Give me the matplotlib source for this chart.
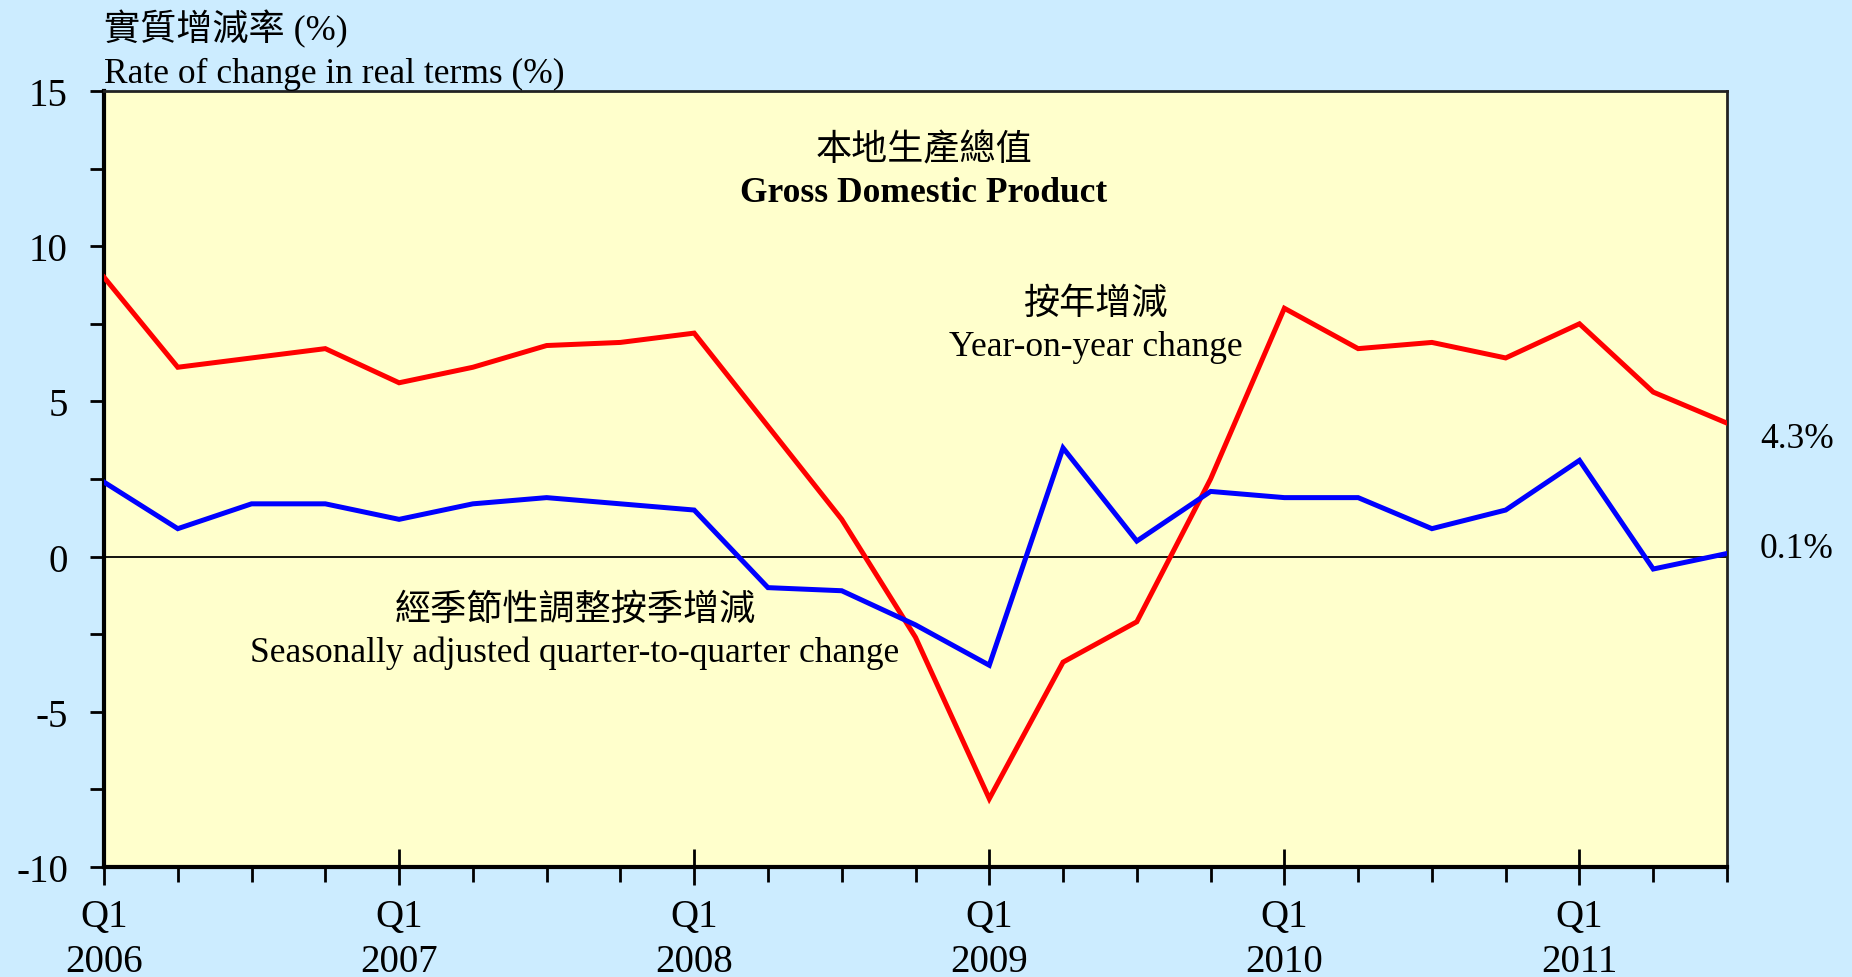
import numpy as np
import matplotlib
matplotlib.use("Agg")
import matplotlib.pyplot as plt
from matplotlib.ticker import MultipleLocator

plt.rcParams['font.family'] = ['Liberation Serif', 'Noto Sans CJK TC']

# quarters Q1 2006 .. Q3 2011
quarters = [f"Q{q} {y}" for y in range(2006, 2012) for q in range(1, 5)][:23]
years = ["2006", "2007", "2008", "2009", "2010", "2011"]

yoy = [9.0, 6.1, 6.4, 6.7, 5.6, 6.1, 6.8, 6.9,
       7.2, 4.2, 1.2, -2.6, -7.8, -3.4, -2.1, 2.5,
       8.0, 6.7, 6.9, 6.4, 7.5, 5.3, 4.3]
qoq = [2.4, 0.9, 1.7, 1.7, 1.2, 1.7, 1.9, 1.7,
       1.5, -1.0, -1.1, -2.2, -3.5, 3.5, 0.5, 2.1,
       1.9, 1.9, 0.9, 1.5, 3.1, -0.4, 0.1]

bg = "#CCECFF"
panel = "#FFFFCC"
fs = 25.5
fs_cjk = 26
W, H = 1852, 978


def put(px, py, s, size, **kw):
    # place text by pixel position (from top-left)
    fig.text(px / W, 1 - py / H, s, fontsize=size, va="center", **kw)


fig = plt.figure(figsize=(W / 100, H / 100), dpi=100, facecolor=bg)
ax = fig.add_axes([104 / W, 1 - 868 / H, (1727 - 104) / W, (868 - 92) / H])
ax.set_facecolor(panel)

x = np.arange(len(quarters))
ax.axhline(0, color="black", lw=1.3, zorder=1)
ax.plot(x, yoy, color="#FF0000", lw=3.6, zorder=3, solid_joinstyle="miter")
ax.plot(x, qoq, color="#0000FF", lw=3.6, zorder=3, solid_joinstyle="miter")

ax.set_xlim(0, len(quarters) - 1)
ax.set_ylim(-10, 15)

# y axis: labelled every 5, minor every 2.5
ax.yaxis.set_major_locator(MultipleLocator(5))
ax.yaxis.set_minor_locator(MultipleLocator(2.5))
ax.set_yticklabels([f"{int(v)}" for v in ax.get_yticks()])
ax.tick_params(axis="y", which="both", direction="out", length=10, width=2,
               labelsize=28, pad=16)

# x axis: Q1 of every year labelled, each quarter ticked
ax.set_xticks(x[::4])
ax.set_xticklabels([f"Q1\n{y}" for y in years], fontsize=28, linespacing=1.3)
ax.set_xticks(x, minor=True)
ax.tick_params(axis="x", which="major", direction="inout", length=26, width=2, pad=9)
ax.tick_params(axis="x", which="minor", direction="out", length=11, width=2)

for s in ["left", "bottom"]:
    ax.spines[s].set_linewidth(3)
for s in ["top", "right"]:
    ax.spines[s].set_linewidth(2)
    ax.spines[s].set_color("#222222")

put(104, 29, "實質增減率 (%)", fs_cjk, ha="left")
put(104, 74, "Rate of change in real terms (%)", fs, ha="left")

put(924, 151, "本地生產總值", fs_cjk, ha="center")
put(924, 194, "Gross Domestic Product", fs, ha="center", fontweight="bold")

put(1096, 305, "按年增減", fs_cjk, ha="center")
put(1096, 348, "Year-on-year change", fs, ha="center")

put(575, 611, "經季節性調整按季增減", fs_cjk, ha="center")
put(575, 653, "Seasonally adjusted quarter-to-quarter change", fs, ha="center")

put(1760, 439, f"{yoy[-1]:.1f}%", fs, ha="left")
put(1760, 550, f"{qoq[-1]:.1f}%", fs, ha="left")

fig.savefig("out.png", dpi=100, facecolor=bg)
